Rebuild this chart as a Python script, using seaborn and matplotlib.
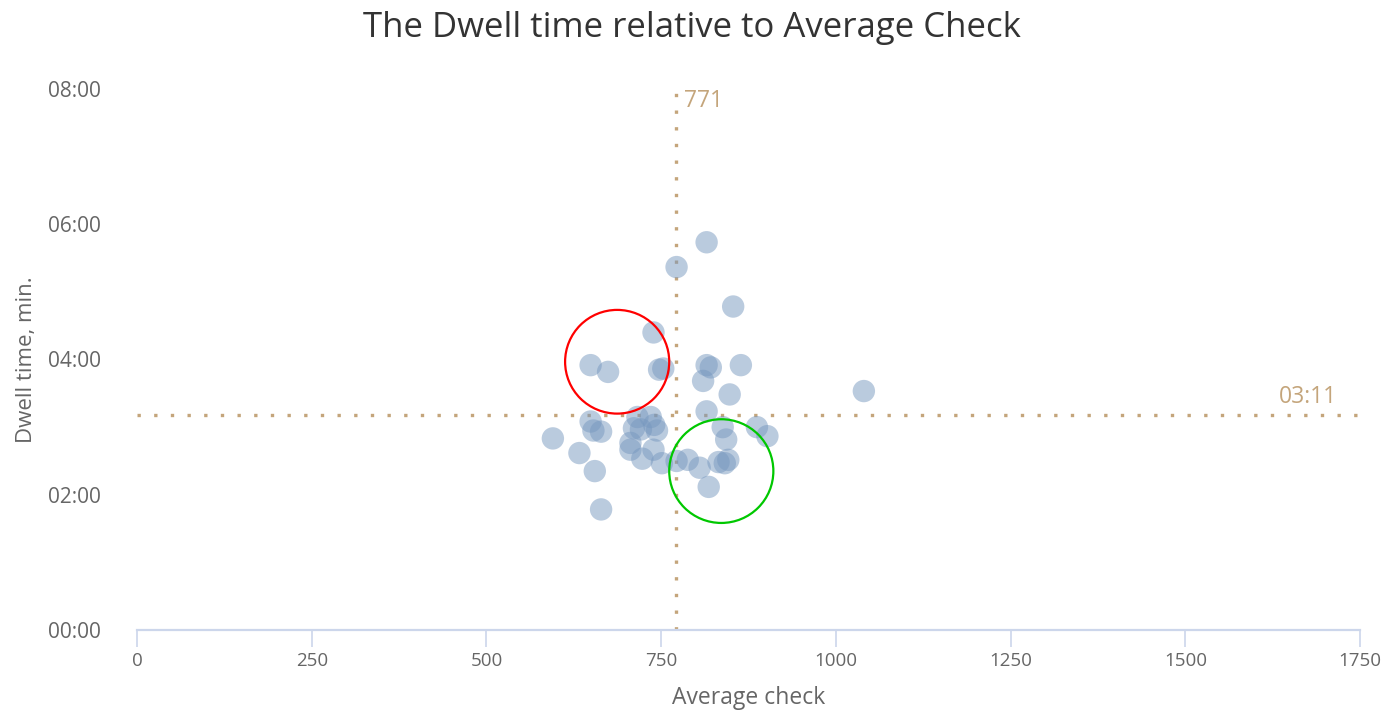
import matplotlib
matplotlib.use("Agg")
import numpy as np
import pandas as pd
import matplotlib.pyplot as plt
import matplotlib.ticker as mticker
from matplotlib.patches import Ellipse
import seaborn as sns

# average check per venue
avg_check = [815, 772, 853, 739, 649, 674, 747, 753, 815, 821,
             864, 810, 848, 815, 649, 653, 664, 595, 633, 655,
             664, 716, 735, 711, 721, 740, 744, 706, 706, 739,
             723, 751, 772, 788, 805, 818, 838, 843, 832, 841,
             846, 887, 902, 1040]
# dwell time, seconds
dwell_sec = [344, 322, 287, 264, 235, 229, 231, 232, 235, 233,
             235, 221, 209, 194, 185, 177, 176, 170, 157, 141,
             107, 189, 189, 179, 178, 182, 177, 166, 160, 160,
             152, 148, 150, 151, 144, 127, 180, 169, 149, 148,
             151, 180, 172, 212]

mean_check = 771
mean_dwell = 191  # 03:11

# highlighted groups (center x, center y in seconds)
highlight_x = [687, 836]
highlight_y = [238, 141]
highlight_colors = ["#ff0000", "#00c800"]

df = pd.DataFrame({"check": avg_check, "dwell": dwell_sec})

sns.set_style("white")
plt.rcParams["font.family"] = ["Open Sans", "DejaVu Sans"]

fig = plt.figure(figsize=(13.83, 7.14), dpi=100)
ax = fig.add_axes([0.0991, 0.1176, 0.8843, 0.7578])

ref_color = "#c4a57b"
ax.axvline(mean_check, color=ref_color, lw=2.4, ls=(0, (1, 4)), dash_capstyle="butt", zorder=1)
ax.axhline(mean_dwell, color=ref_color, lw=2.4, ls=(0, (1, 4)), dash_capstyle="butt", zorder=1)

sns.scatterplot(data=df, x="check", y="dwell", ax=ax, s=260, color="#7798BF",
                alpha=0.5, edgecolor="none", zorder=3)

for cx, cy, c in zip(highlight_x, highlight_y, highlight_colors):
    ax.add_patch(Ellipse((cx, cy), width=149, height=92, fill=False,
                         edgecolor=c, lw=1.6, zorder=4))

ax.set_xlim(0, 1750)
ax.set_ylim(0, 480)
ax.set_xticks(np.arange(0, 1751, 250))
ax.set_yticks(np.arange(0, 481, 120))
ax.yaxis.set_major_formatter(mticker.FuncFormatter(
    lambda v, p: f"{int(v) // 60:02d}:{int(v) % 60:02d}"))

ax.text(mean_check + 11, 469, str(mean_check), color=ref_color, fontsize=16.5,
        ha="left", va="center")
ax.text(1717, mean_dwell + 5, f"{mean_dwell // 60:02d}:{mean_dwell % 60:02d}",
        color=ref_color, fontsize=16.5, ha="right", va="bottom")

for side in ["top", "right", "left"]:
    ax.spines[side].set_visible(False)
ax.spines["bottom"].set_color("#ccd6eb")
ax.spines["bottom"].set_linewidth(1.6)
ax.tick_params(axis="x", bottom=True, color="#ccd6eb", length=12, width=1.2,
               direction="out", labelcolor="#666666", labelsize=13.5, pad=4)
ax.tick_params(axis="y", left=False, length=0, labelcolor="#666666",
               labelsize=15, pad=26)

ax.set_xlabel("Average check", fontsize=16.5, color="#666666", labelpad=11)
ax.set_ylabel("Dwell time, min.", fontsize=16, color="#666666", labelpad=8)
fig.suptitle("The Dwell time relative to Average Check", fontsize=25,
             color="#333333", y=0.985)

fig.savefig("out.png", dpi=100)
